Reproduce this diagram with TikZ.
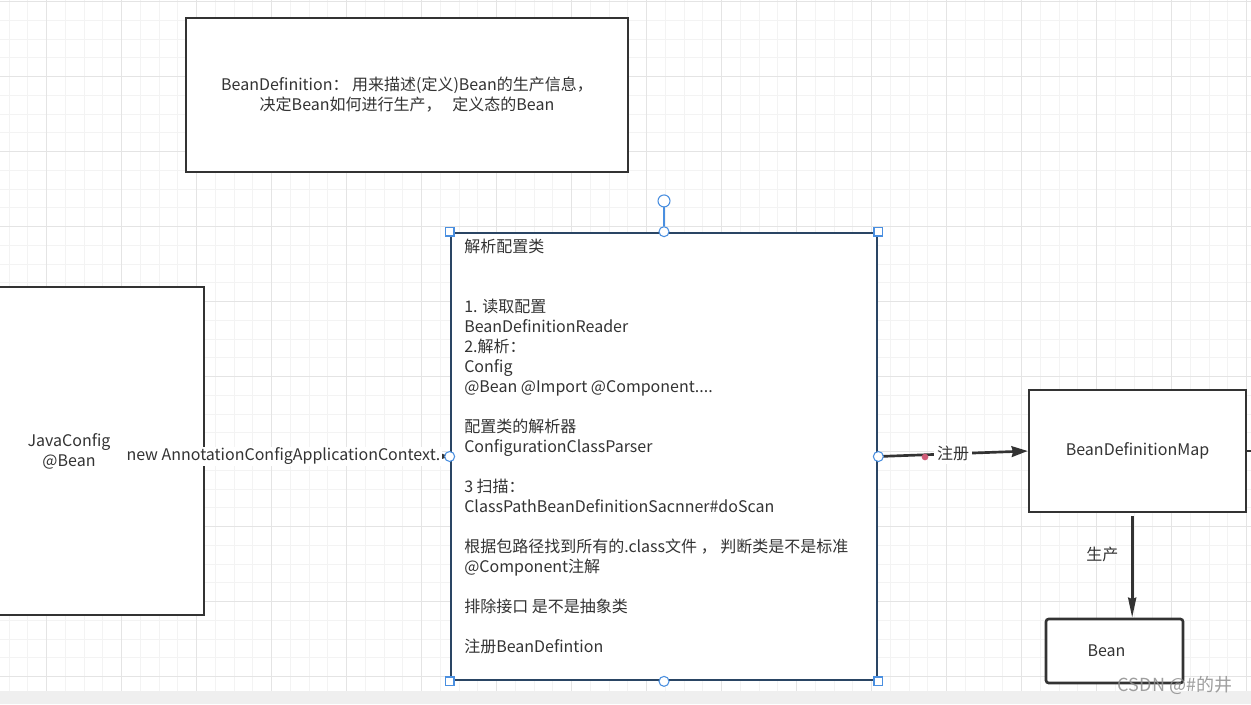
\documentclass[tikz,border=0pt]{standalone}
\usepackage{fontspec}
\usepackage{tikz}
\usetikzlibrary{arrows.meta,positioning}
\setmainfont{Noto Sans CJK SC}
\definecolor{inkgray}{HTML}{333333}
\definecolor{boxnavy}{HTML}{2A4564}
\definecolor{handleblue}{HTML}{4A8FE0}
\definecolor{gridminor}{HTML}{F3F3F3}
\definecolor{gridmajor}{HTML}{E4E4E4}
\definecolor{waypink}{HTML}{D05C78}
\definecolor{barsilver}{HTML}{EFEFEF}
\definecolor{markgray}{HTML}{8E8E8E}

\begin{document}
\begin{tikzpicture}[x=0.75pt, y=-0.75pt,
    txt/.style={text=inkgray, font=\fontsize{12pt}{15pt}\selectfont},
    box/.style={txt, draw=inkgray, line width=2pt, fill=white, inner sep=0pt, align=center},
    conn/.style={draw=inkgray, line width=2pt, -{Stealth[length=12pt,width=8pt,inset=1pt]}},
    sqhandle/.style={draw=handleblue, fill=white, line width=0.8pt, inner sep=0pt, minimum size=6.5pt},
    cirhandle/.style={draw=handleblue, fill=white, line width=0.8pt, circle, inner sep=0pt, minimum size=7.5pt}]

    \clip (0,0) rectangle (1251,704);
    \fill[white] (0,0) rectangle (1251,704);
    \foreach \i in {0,...,67} {
        \draw[gridminor, line width=0.75pt] ({-9.55+18.75*\i},0) -- ({-9.55+18.75*\i},691);
    }
    \foreach \i in {0,...,37} {
        \draw[gridminor, line width=0.75pt] (0,{1.7+18.75*\i}) -- (1251,{1.7+18.75*\i});
    }
    \foreach \i in {0,...,16} {
        \draw[gridmajor, line width=0.75pt] ({46.7+75*\i},0) -- ({46.7+75*\i},691);
    }
    \foreach \i in {0,...,9} {
        \draw[gridmajor, line width=0.75pt] (0,{1.7+75*\i}) -- (1251,{1.7+75*\i});
    }
    \fill[barsilver] (0,691) rectangle (1251,704);

    \node[box, minimum width=331.5pt, minimum height=115.5pt] (beandef) at (407,95)
        {BeanDefinition：\ 用来描述(定义)Bean的生产信息，\\决定Bean如何进行生产，\ \ \ 定义态的Bean};
    \node[box, minimum width=202.5pt, minimum height=246pt] (javacfg) at (69,451)
        {JavaConfig\\@Bean};
    \node[box, draw=boxnavy, minimum width=319.5pt, minimum height=335.25pt] (parse) at (664,456.5) {};
    \node[txt, anchor=north west, align=left, inner sep=0pt] (parsetxt) at (464,239)
        {解析配置类\\[30pt]
        1. 读取配置\\
        BeanDefinitionReader\\
        2.解析：\\
        Config\\
        @Bean @Import @Component....\\[15pt]
        配置类的解析器\\
        ConfigurationClassParser\\[15pt]
        3 扫描：\\
        ClassPathBeanDefinitionSacnner\#doScan\\[15pt]
        根据包路径找到所有的.class文件 ， 判断类是不是标准\\
        @Component注解\\[15pt]
        排除接口 是不是抽象类\\[15pt]
        注册BeanDefintion};
    \node[box, minimum width=162.75pt, minimum height=91.5pt] (bdmap) at (1137.5,451)
        {BeanDefinitionMap};
    \node[box, rounded corners=2pt, minimum width=102.75pt, minimum height=48pt] (bean) at (1114.5,651)
        {Bean\hspace*{12pt}};
    \coordinate (offright) at (1280,451);

    \draw[conn] (javacfg.east) -- (parse.west)
        node[txt, pos=1, anchor=east, fill=white, inner sep=1pt, xshift=-5pt] (newctx) {new AnnotationConfigApplicationContext.};
    \draw[conn] (parse.east) -- node[txt, fill=white, inner sep=2pt] (zhuce) {注册} (bdmap.west);
    \draw[conn, -{Stealth[length=15pt,width=6pt,inset=1pt]}] ([xshift=-4pt,yshift=-2pt]bdmap.south) -- ([xshift=-4pt]bdmap.south |- bean.north)
        node[txt, pos=0.38, left=6pt] (shengchan) {生产};
    \draw[inkgray, line width=2pt] (bdmap.east) -- (offright);

    \node[circle, fill=waypink, inner sep=0pt, minimum size=5pt] (waypt) at (925,457) {};
    \foreach \a/\n in {north west/nw, north east/ne, south west/sw, south east/se} {
        \node[sqhandle] (h-\n) at (parse.\a) {};
    }
    \foreach \a/\n in {north/n, south/s, west/w, east/e} {
        \node[cirhandle] (h-\n) at (parse.\a) {};
    }
    \node[cirhandle, minimum size=9pt, above=14pt of h-n] (rot) {};
    \draw[handleblue, line width=1pt] (rot) -- (h-n);

    \node[text=markgray, opacity=0.85, font=\fontsize{13.5pt}{15pt}\selectfont] (mark) at (1175,685) {CSDN @\#的井};
\end{tikzpicture}
\end{document}
